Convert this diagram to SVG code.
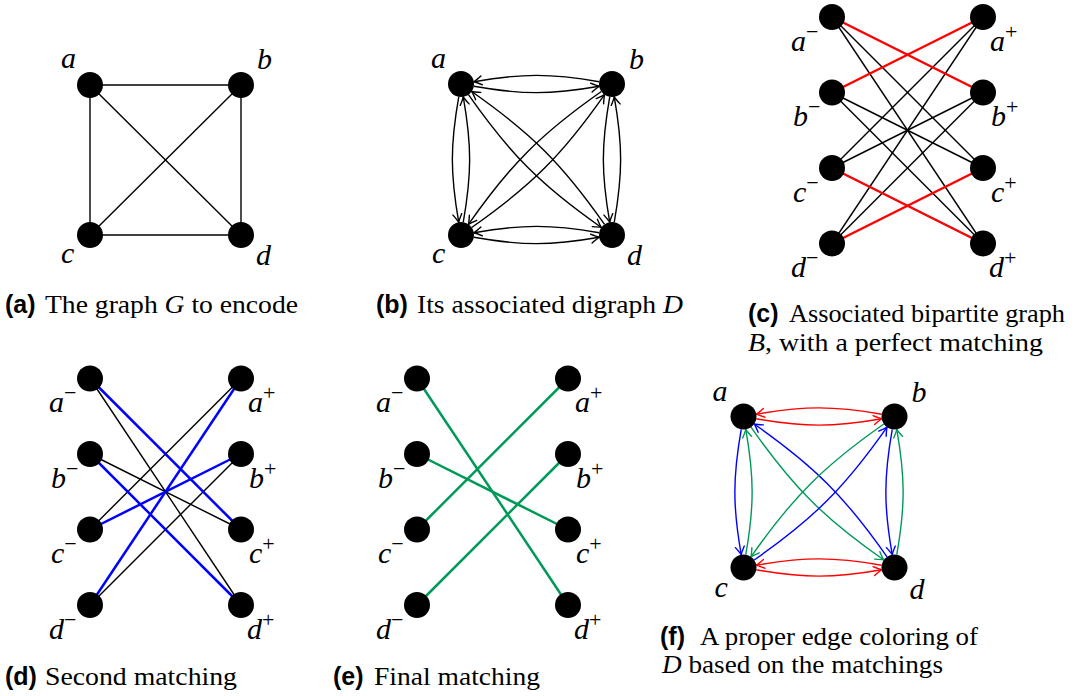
<svg xmlns="http://www.w3.org/2000/svg" width="1075" height="696" viewBox="0 0 1075 696">
<style>
.n{fill:#000}
.e{stroke:#000;stroke-width:1.4;fill:none}
.t{stroke-width:2.5;fill:none}
.r{stroke:#ff0000}
.bl{stroke:#0000ff}
.g{stroke:#00995a}
.lbl{font-family:'Liberation Serif','Times New Roman','DejaVu Serif',serif;font-style:italic;font-size:30px;fill:#000}
.sup{font-style:normal;font-size:22px}
.cap{font-family:'Liberation Serif','Times New Roman','DejaVu Serif',serif;font-size:25px;fill:#000}
.cb{font-family:'Liberation Sans',Arial,sans-serif;font-weight:bold;font-size:25px;fill:#000}
</style>
<defs>
<marker id="mk" viewBox="-9 -6 11 12" markerWidth="11" markerHeight="12" refX="0" refY="0" orient="auto" markerUnits="userSpaceOnUse"><path d="M-8,-4.5 Q-2.5,-1 0,0 Q-2.5,1 -8,4.5" fill="none" stroke="#000" stroke-width="1.4" stroke-linecap="round"/></marker>
<marker id="mr" viewBox="-9 -6 11 12" markerWidth="11" markerHeight="12" refX="0" refY="0" orient="auto" markerUnits="userSpaceOnUse"><path d="M-8,-4.5 Q-2.5,-1 0,0 Q-2.5,1 -8,4.5" fill="none" stroke="#ff0000" stroke-width="1.4" stroke-linecap="round"/></marker>
<marker id="mb" viewBox="-9 -6 11 12" markerWidth="11" markerHeight="12" refX="0" refY="0" orient="auto" markerUnits="userSpaceOnUse"><path d="M-8,-4.5 Q-2.5,-1 0,0 Q-2.5,1 -8,4.5" fill="none" stroke="#0000ff" stroke-width="1.4" stroke-linecap="round"/></marker>
<marker id="mg" viewBox="-9 -6 11 12" markerWidth="11" markerHeight="12" refX="0" refY="0" orient="auto" markerUnits="userSpaceOnUse"><path d="M-8,-4.5 Q-2.5,-1 0,0 Q-2.5,1 -8,4.5" fill="none" stroke="#00995a" stroke-width="1.4" stroke-linecap="round"/></marker>
</defs>

<!-- Panel (a) -->
<g id="panel-a" transform="translate(90,85)">
<g id="edges-a" class="e">
<line x1="0" y1="0" x2="151" y2="0"/>
<line x1="0" y1="150" x2="151" y2="150"/>
<line x1="0" y1="0" x2="0" y2="150"/>
<line x1="151" y1="0" x2="151" y2="150"/>
<line x1="0" y1="0" x2="151" y2="150"/>
<line x1="151" y1="0" x2="0" y2="150"/>
</g>
<g id="a-node-a"><circle class="n" cx="0" cy="0" r="13"/><text class="lbl" x="-29" y="-17">a</text></g>
<g id="a-node-b"><circle class="n" cx="151" cy="0" r="13"/><text class="lbl" x="167" y="-16">b</text></g>
<g id="a-node-c"><circle class="n" cx="0" cy="150" r="13"/><text class="lbl" x="-29" y="178">c</text></g>
<g id="a-node-d"><circle class="n" cx="151" cy="150" r="13"/><text class="lbl" x="166" y="180">d</text></g>
</g>

<!-- Panel (b) -->
<g id="panel-b" transform="translate(461,84)">
<g id="edges-b" class="e" marker-end="url(#mk)">
<path d="M12.80,2.26 C61.15,10.78 89.85,10.78 138.20,2.26"/>
<path d="M138.20,-2.26 C89.85,-10.78 61.15,-10.78 12.80,-2.26"/>
<path d="M12.80,153.26 C61.15,161.78 89.85,161.78 138.20,153.26"/>
<path d="M138.20,148.74 C89.85,140.22 61.15,140.22 12.80,148.74"/>
<path d="M-2.26,12.80 C-10.78,61.15 -10.78,89.85 -2.26,138.20"/>
<path d="M2.26,138.20 C10.78,89.85 10.78,61.15 2.26,12.80"/>
<path d="M148.74,12.80 C140.22,61.15 140.22,89.85 148.74,138.20"/>
<path d="M153.26,138.20 C161.78,89.85 161.78,61.15 153.26,12.80"/>
<path d="M7.46,10.65 C49.66,70.91 80.09,101.34 140.35,143.54"/>
<path d="M143.54,140.35 C101.34,80.09 70.91,49.66 10.65,7.46"/>
<path d="M10.65,143.54 C70.91,101.34 101.34,70.91 143.54,10.65"/>
<path d="M140.35,7.46 C80.09,49.66 49.66,80.09 7.46,140.35"/>
</g>
<g id="b-node-a"><circle class="n" cx="0" cy="0" r="13"/><text class="lbl" x="-30" y="-16">a</text></g>
<g id="b-node-b"><circle class="n" cx="151" cy="0" r="13"/><text class="lbl" x="168" y="-15">b</text></g>
<g id="b-node-c"><circle class="n" cx="0" cy="151" r="13"/><text class="lbl" x="-29" y="179">c</text></g>
<g id="b-node-d"><circle class="n" cx="151" cy="151" r="13"/><text class="lbl" x="166" y="181">d</text></g>
</g>

<!-- Panel (c) -->
<g id="panel-c" transform="translate(832,17)">
<g id="edges-c">
<g class="e">
<line x1="0" y1="0" x2="151" y2="151"/>
<line x1="0" y1="0" x2="151" y2="226.5"/>
<line x1="0" y1="75.5" x2="151" y2="151"/>
<line x1="0" y1="75.5" x2="151" y2="226.5"/>
<line x1="0" y1="151" x2="151" y2="0"/>
<line x1="0" y1="151" x2="151" y2="75.5"/>
<line x1="0" y1="226.5" x2="151" y2="0"/>
<line x1="0" y1="226.5" x2="151" y2="75.5"/>
</g>
<g class="t r">
<line x1="0" y1="0" x2="151" y2="75.5"/>
<line x1="0" y1="75.5" x2="151" y2="0"/>
<line x1="0" y1="151" x2="151" y2="226.5"/>
<line x1="0" y1="226.5" x2="151" y2="151"/>
</g>
</g>
<g id="c-node-am"><circle class="n" cx="0" cy="0" r="13"/><text class="lbl" x="-41" y="33.5">a<tspan class="sup" dy="-12">−</tspan></text></g>
<g id="c-node-bm"><circle class="n" cx="0" cy="75.5" r="13"/><text class="lbl" x="-39" y="109">b<tspan class="sup" dy="-12">−</tspan></text></g>
<g id="c-node-cm"><circle class="n" cx="0" cy="151" r="13"/><text class="lbl" x="-39" y="184.5">c<tspan class="sup" dy="-12">−</tspan></text></g>
<g id="c-node-dm"><circle class="n" cx="0" cy="226.5" r="13"/><text class="lbl" x="-41" y="260">d<tspan class="sup" dy="-12">−</tspan></text></g>
<g id="c-node-ap"><circle class="n" cx="151" cy="0" r="13"/><text class="lbl" x="158" y="33.5">a<tspan class="sup" dy="-12">+</tspan></text></g>
<g id="c-node-bp"><circle class="n" cx="151" cy="75.5" r="13"/><text class="lbl" x="159" y="109">b<tspan class="sup" dy="-12">+</tspan></text></g>
<g id="c-node-cp"><circle class="n" cx="151" cy="151" r="13"/><text class="lbl" x="159" y="184.5">c<tspan class="sup" dy="-12">+</tspan></text></g>
<g id="c-node-dp"><circle class="n" cx="151" cy="226.5" r="13"/><text class="lbl" x="157" y="260">d<tspan class="sup" dy="-12">+</tspan></text></g>
</g>

<!-- Panel (d) -->
<g id="panel-d" transform="translate(90,378.5)">
<g id="edges-d">
<g class="e">
<line x1="0" y1="0" x2="151" y2="226.5"/>
<line x1="0" y1="75.5" x2="151" y2="151"/>
<line x1="0" y1="151" x2="151" y2="0"/>
<line x1="0" y1="226.5" x2="151" y2="75.5"/>
</g>
<g class="t bl">
<line x1="0" y1="0" x2="151" y2="151"/>
<line x1="0" y1="75.5" x2="151" y2="226.5"/>
<line x1="0" y1="151" x2="151" y2="75.5"/>
<line x1="0" y1="226.5" x2="151" y2="0"/>
</g>
</g>
<g id="d-node-am"><circle class="n" cx="0" cy="0" r="13"/><text class="lbl" x="-41" y="33.5">a<tspan class="sup" dy="-12">−</tspan></text></g>
<g id="d-node-bm"><circle class="n" cx="0" cy="75.5" r="13"/><text class="lbl" x="-39" y="109">b<tspan class="sup" dy="-12">−</tspan></text></g>
<g id="d-node-cm"><circle class="n" cx="0" cy="151" r="13"/><text class="lbl" x="-39" y="184.5">c<tspan class="sup" dy="-12">−</tspan></text></g>
<g id="d-node-dm"><circle class="n" cx="0" cy="226.5" r="13"/><text class="lbl" x="-41" y="260">d<tspan class="sup" dy="-12">−</tspan></text></g>
<g id="d-node-ap"><circle class="n" cx="151" cy="0" r="13"/><text class="lbl" x="158" y="33.5">a<tspan class="sup" dy="-12">+</tspan></text></g>
<g id="d-node-bp"><circle class="n" cx="151" cy="75.5" r="13"/><text class="lbl" x="159" y="109">b<tspan class="sup" dy="-12">+</tspan></text></g>
<g id="d-node-cp"><circle class="n" cx="151" cy="151" r="13"/><text class="lbl" x="159" y="184.5">c<tspan class="sup" dy="-12">+</tspan></text></g>
<g id="d-node-dp"><circle class="n" cx="151" cy="226.5" r="13"/><text class="lbl" x="157" y="260">d<tspan class="sup" dy="-12">+</tspan></text></g>
</g>

<!-- Panel (e) -->
<g id="panel-e" transform="translate(417,378.5)">
<g id="edges-e" class="t g">
<line x1="0" y1="0" x2="151" y2="226.5"/>
<line x1="0" y1="75.5" x2="151" y2="151"/>
<line x1="0" y1="151" x2="151" y2="0"/>
<line x1="0" y1="226.5" x2="151" y2="75.5"/>
</g>
<g id="e-node-am"><circle class="n" cx="0" cy="0" r="13"/><text class="lbl" x="-41" y="33.5">a<tspan class="sup" dy="-12">−</tspan></text></g>
<g id="e-node-bm"><circle class="n" cx="0" cy="75.5" r="13"/><text class="lbl" x="-39" y="109">b<tspan class="sup" dy="-12">−</tspan></text></g>
<g id="e-node-cm"><circle class="n" cx="0" cy="151" r="13"/><text class="lbl" x="-39" y="184.5">c<tspan class="sup" dy="-12">−</tspan></text></g>
<g id="e-node-dm"><circle class="n" cx="0" cy="226.5" r="13"/><text class="lbl" x="-41" y="260">d<tspan class="sup" dy="-12">−</tspan></text></g>
<g id="e-node-ap"><circle class="n" cx="151" cy="0" r="13"/><text class="lbl" x="158" y="33.5">a<tspan class="sup" dy="-12">+</tspan></text></g>
<g id="e-node-bp"><circle class="n" cx="151" cy="75.5" r="13"/><text class="lbl" x="159" y="109">b<tspan class="sup" dy="-12">+</tspan></text></g>
<g id="e-node-cp"><circle class="n" cx="151" cy="151" r="13"/><text class="lbl" x="159" y="184.5">c<tspan class="sup" dy="-12">+</tspan></text></g>
<g id="e-node-dp"><circle class="n" cx="151" cy="226.5" r="13"/><text class="lbl" x="157" y="260">d<tspan class="sup" dy="-12">+</tspan></text></g>
</g>

<!-- Panel (f) -->
<g id="panel-f" transform="translate(743.5,416.5)">
<g id="edges-f" class="e">
<path class="r" marker-end="url(#mr)" d="M12.80,2.26 C61.15,10.78 89.85,10.78 138.20,2.26"/>
<path class="r" marker-end="url(#mr)" d="M138.20,-2.26 C89.85,-10.78 61.15,-10.78 12.80,-2.26"/>
<path class="r" marker-end="url(#mr)" d="M12.80,153.26 C61.15,161.78 89.85,161.78 138.20,153.26"/>
<path class="r" marker-end="url(#mr)" d="M138.20,148.74 C89.85,140.22 61.15,140.22 12.80,148.74"/>
<path class="bl" marker-end="url(#mb)" d="M-2.26,12.80 C-10.78,61.15 -10.78,89.85 -2.26,138.20"/>
<path class="g" marker-end="url(#mg)" d="M2.26,138.20 C10.78,89.85 10.78,61.15 2.26,12.80"/>
<path class="bl" marker-end="url(#mb)" d="M148.74,12.80 C140.22,61.15 140.22,89.85 148.74,138.20"/>
<path class="g" marker-end="url(#mg)" d="M153.26,138.20 C161.78,89.85 161.78,61.15 153.26,12.80"/>
<path class="g" marker-end="url(#mg)" d="M7.46,10.65 C49.66,70.91 80.09,101.34 140.35,143.54"/>
<path class="bl" marker-end="url(#mb)" d="M143.54,140.35 C101.34,80.09 70.91,49.66 10.65,7.46"/>
<path class="bl" marker-end="url(#mb)" d="M10.65,143.54 C70.91,101.34 101.34,70.91 143.54,10.65"/>
<path class="g" marker-end="url(#mg)" d="M140.35,7.46 C80.09,49.66 49.66,80.09 7.46,140.35"/>
</g>
<g id="f-node-a"><circle class="n" cx="0" cy="0" r="13"/><text class="lbl" x="-31" y="-16">a</text></g>
<g id="f-node-b"><circle class="n" cx="151" cy="0" r="13"/><text class="lbl" x="168" y="-15">b</text></g>
<g id="f-node-c"><circle class="n" cx="0" cy="151" r="13"/><text class="lbl" x="-29" y="180">c</text></g>
<g id="f-node-d"><circle class="n" cx="151" cy="151" r="13"/><text class="lbl" x="166" y="182">d</text></g>
</g>

<!-- Captions -->
<g id="captions">
<text class="cb" x="5" y="313">(a)</text>
<text class="cap" x="45" y="313" textLength="253" lengthAdjust="spacingAndGlyphs">The graph <tspan font-style="italic">G</tspan> to encode</text>
<text class="cb" x="376" y="313">(b)</text>
<text class="cap" x="417" y="313" textLength="266" lengthAdjust="spacingAndGlyphs">Its associated digraph <tspan font-style="italic">D</tspan></text>
<text class="cb" x="748" y="322">(c)</text>
<text class="cap" x="789" y="322" textLength="276" lengthAdjust="spacingAndGlyphs">Associated bipartite graph</text>
<text class="cap" x="748" y="351" textLength="295" lengthAdjust="spacingAndGlyphs"><tspan font-style="italic">B</tspan>, with a perfect matching</text>
<text class="cb" x="5" y="685">(d)</text>
<text class="cap" x="45" y="685" textLength="192" lengthAdjust="spacingAndGlyphs">Second matching</text>
<text class="cb" x="333" y="685">(e)</text>
<text class="cap" x="374" y="685" textLength="166" lengthAdjust="spacingAndGlyphs">Final matching</text>
<text class="cb" x="660" y="645">(f)</text>
<text class="cap" x="700" y="645" textLength="278" lengthAdjust="spacingAndGlyphs">A proper edge coloring of</text>
<text class="cap" x="662" y="673" textLength="281" lengthAdjust="spacingAndGlyphs"><tspan font-style="italic">D</tspan> based on the matchings</text>
</g>
</svg>
